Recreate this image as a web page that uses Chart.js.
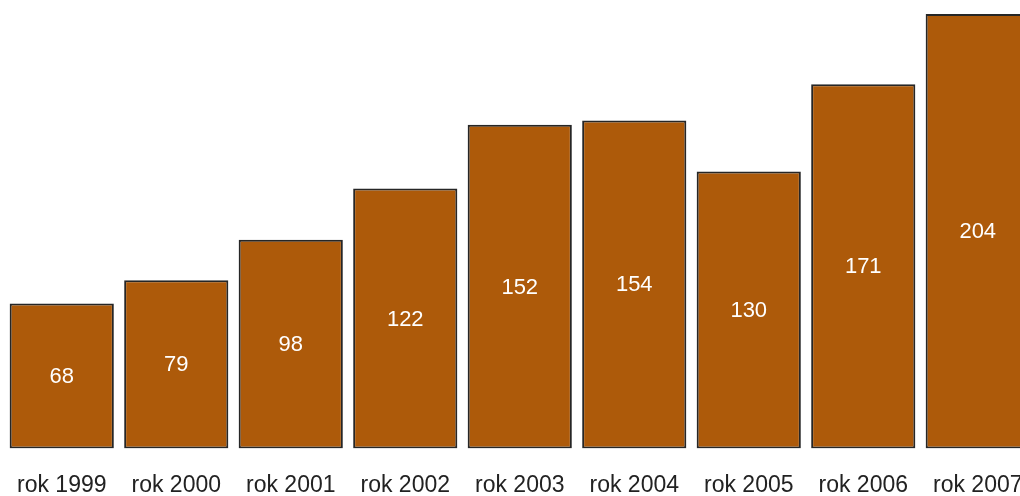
<!DOCTYPE html>
<html>
<head>
<meta charset="utf-8">
<script src="https://cdn.jsdelivr.net/npm/chart.js@4"></script>
<style>
    html, body { margin: 0; padding: 0; background: #ffffff; overflow: hidden; }
    #wrap { position: relative; width: 1035px; height: 522px; }
</style>
</head>
<body>
<div id="wrap"><canvas id="barChart"></canvas></div>
<script>
// =================== data ===================
const years = ['rok 1999', 'rok 2000', 'rok 2001', 'rok 2002', 'rok 2003', 'rok 2004', 'rok 2005', 'rok 2006', 'rok 2007'];
const values = [68, 79, 98, 122, 152, 154, 130, 171, 204];

// values written in the middle of every bar
const centerLabels = {
    id: 'centerLabels',
    afterDatasetsDraw(chart) {
        const ctx = chart.ctx;
        const meta = chart.getDatasetMeta(0);
        ctx.save();
        ctx.fillStyle = '#ffffff';
        ctx.font = '22px "Liberation Sans", Arial, sans-serif';
        ctx.textAlign = 'center';
        ctx.textBaseline = 'middle';
        meta.data.forEach((bar, i) => {
            const y = (bar.y + bar.base) / 2;
            ctx.fillText(String(values[i]), bar.x, y + 1);
        });
        ctx.restore();
    }
};

function drawChart() {
    const ctx = document.getElementById('barChart');
    const myChart = new Chart(ctx, {
        type: 'bar',
        data: {
            labels: years,
            datasets: [{
                data: values,
                backgroundColor: '#ad5a0a',
                borderColor: '#262626',
                borderWidth: 2,
                borderSkipped: false,
                categoryPercentage: 1,
                barPercentage: 0.91
            }]
        },
        options: {
            responsive: true,
            maintainAspectRatio: false,
            animation: false,
            layout: {
                padding: { top: 14, left: 4.5, right: 0, bottom: 0 }
            },
            plugins: {
                legend: { display: false },
                tooltip: { enabled: false }
            },
            scales: {
                x: {
                    grid: { display: false, drawTicks: false },
                    border: { display: false },
                    afterFit(scale) {
                        scale.paddingLeft = 0;
                        scale.paddingRight = 0;
                    },
                    ticks: {
                        color: '#222222',
                        padding: 23,
                        font: { family: '"Liberation Sans", Arial, sans-serif', size: 23 }
                    }
                },
                y: {
                    display: false,
                    min: 0,
                    max: 204
                }
            }
        },
        plugins: [centerLabels]
    });
    return myChart;
}

drawChart();
</script>
</body>
</html>
